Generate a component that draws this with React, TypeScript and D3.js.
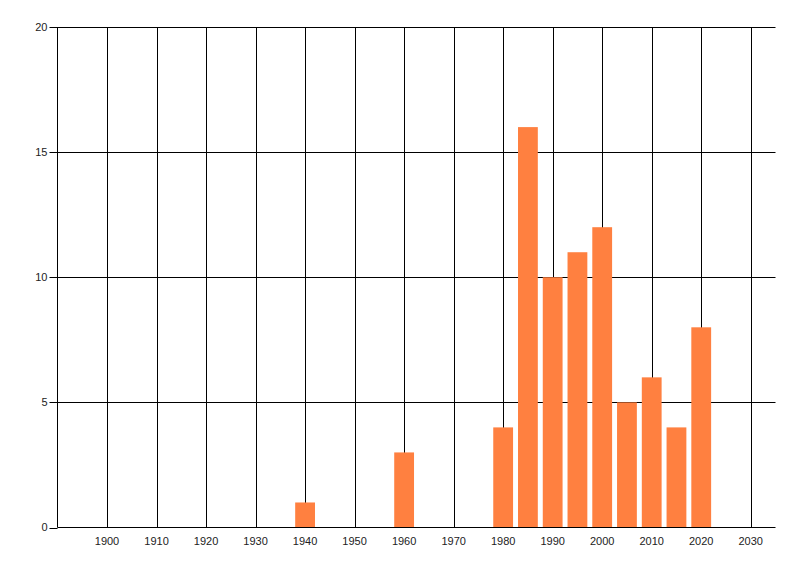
import React from "react";
import * as d3 from "d3";

const years = [1940, 1960, 1980, 1985, 1990, 1995, 2000, 2005, 2010, 2015, 2020];
const counts = [1, 3, 4, 16, 10, 11, 12, 5, 6, 4, 8];
const xTicks = [1900, 1910, 1920, 1930, 1940, 1950, 1960, 1970, 1980, 1990, 2000, 2010, 2020, 2030];
const yTicks = [0, 5, 10, 15, 20];

const W = 800, H = 576;
const left = 57.5, right = 775.5, top = 27, bottom = 527.5;

export default function App() {
  const x = d3.scaleLinear().domain([1890, 2035]).range([left, right]);
  const y = d3.scaleLinear().domain([0, 20]).range([bottom, top]);
  const barW = x(1894) - x(1890);
  const font = "'Liberation Sans', Arial, sans-serif";
  return (
    <svg width={W} height={H} style={{ position: "absolute", left: 0, top: 0, background: "#fff" }}>
      {xTicks.map((t) => (
        <line key={"gx" + t} x1={Math.round(x(t)) + 0.5} x2={Math.round(x(t)) + 0.5} y1={top} y2={bottom} stroke="#000" strokeWidth={1} />
      ))}
      {yTicks.filter((t) => t > 0).map((t) => (
        <line key={"gy" + t} x1={left} x2={right} y1={Math.round(y(t)) + 0.5} y2={Math.round(y(t)) + 0.5} stroke="#000" strokeWidth={1} />
      ))}
      {years.map((yr, i) => (
        <rect key={yr} x={x(yr) - barW / 2} width={barW} y={y(counts[i])} height={y(0) - y(counts[i])} fill="#ff8040" />
      ))}
      <line x1={left} x2={left} y1={top} y2={bottom} stroke="#000" />
      <line x1={left} x2={right} y1={bottom} y2={bottom} stroke="#000" />
      {yTicks.map((t) => (
        <g key={"ty" + t}>
          <line x1={left - 8} x2={left} y1={Math.round(y(t)) + 0.5} y2={Math.round(y(t)) + 0.5} stroke="#000" />
          <text x={left - 10} y={y(t)} dy="0.35em" textAnchor="end" fontFamily={font} fontSize={11} fill="#222">{t}</text>
        </g>
      ))}
      {xTicks.map((t) => (
        <text key={"tx" + t} x={x(t)} y={bottom + 17} textAnchor="middle" fontFamily={font} fontSize={11} fill="#222">{t}</text>
      ))}
    </svg>
  );
}
